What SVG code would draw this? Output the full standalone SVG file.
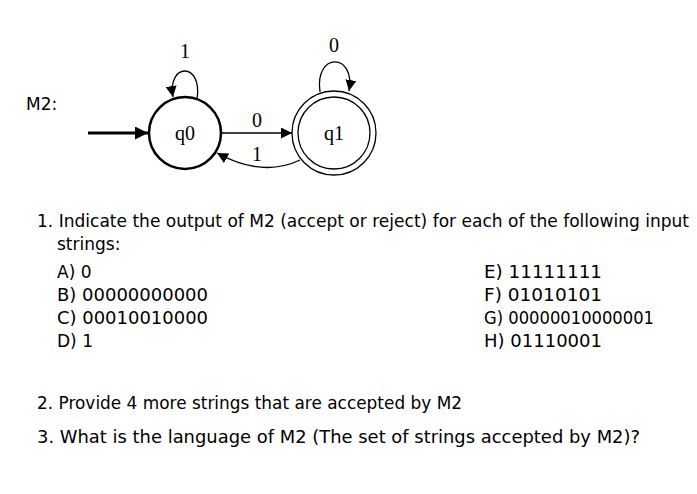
<svg xmlns="http://www.w3.org/2000/svg" width="697" height="494" viewBox="0 0 697 494">
<defs>
<style>
.t{font-family:"DejaVu Sans",sans-serif;font-size:17px;fill:#000}
.s{font-family:"Liberation Serif",serif;font-size:20px;fill:#000}
.e{fill:none;stroke:#000;stroke-width:1.3}
</style>
<marker id="a" viewBox="0 0 10 10" refX="10" refY="5" markerWidth="11" markerHeight="11" markerUnits="userSpaceOnUse" orient="auto"><path d="M0,0L10,5L0,10z"/></marker>
<marker id="b" viewBox="0 0 10 10" refX="10" refY="5" markerWidth="14" markerHeight="13" markerUnits="userSpaceOnUse" orient="auto"><path d="M0,0L10,5L0,10z"/></marker>
</defs>
<rect width="697" height="494" fill="#fff"/>
<text class="t" x="26" y="110">M2:</text>
<g id="connectors">
<line x1="88" y1="133" x2="148" y2="133" stroke="#000" stroke-width="3" marker-end="url(#b)"/>
<path class="e" d="M197,99 C203,62 167,62 173,97" marker-end="url(#a)"/>
<text class="s" x="185" y="58" text-anchor="middle">1</text>
<path class="e" d="M320,92 C314,52 356,52 349,91" marker-end="url(#a)"/>
<text class="s" x="334" y="52" text-anchor="middle">0</text>
<line class="e" x1="222" y1="133" x2="292" y2="133" marker-end="url(#a)"/>
<text class="s" x="257" y="127" text-anchor="middle">0</text>
<path class="e" d="M300,160 C275,172 248,170 217,153" marker-end="url(#a)"/>
<text class="s" x="257" y="161" text-anchor="middle">1</text>
</g>
<g id="q0"><circle cx="185" cy="133" r="36" fill="#fff" stroke="#000" stroke-width="2.5"/><text class="s" x="185" y="140" text-anchor="middle">q0</text></g>
<g id="q1"><circle cx="334" cy="133" r="42" fill="#fff" stroke="#000" stroke-width="1.3"/><circle cx="334" cy="133" r="36" fill="none" stroke="#000" stroke-width="1.3"/><text class="s" x="334" y="140" text-anchor="middle">q1</text></g>
<text class="t" x="37" y="227" textLength="652" lengthAdjust="spacingAndGlyphs">1.  Indicate the output of M2 (accept or reject) for each of the following input</text>
<text class="t" x="57" y="250">strings:</text>
<text class="t" x="57" y="278">A) 0</text>
<text class="t" x="57" y="301" textLength="151" lengthAdjust="spacingAndGlyphs">B) 00000000000</text>
<text class="t" x="57" y="324" textLength="151" lengthAdjust="spacingAndGlyphs">C) 00010010000</text>
<text class="t" x="57" y="347">D) 1</text>
<text class="t" x="484" y="278" textLength="118" lengthAdjust="spacingAndGlyphs">E) 11111111</text>
<text class="t" x="484" y="301" textLength="118" lengthAdjust="spacingAndGlyphs">F) 01010101</text>
<text class="t" x="484" y="324" textLength="170" lengthAdjust="spacingAndGlyphs">G) 00000010000001</text>
<text class="t" x="484" y="347" textLength="118" lengthAdjust="spacingAndGlyphs">H) 01110001</text>
<text class="t" x="37" y="409" textLength="425" lengthAdjust="spacingAndGlyphs">2.  Provide 4 more strings that are accepted by M2</text>
<text class="t" x="37" y="443" textLength="603" lengthAdjust="spacingAndGlyphs">3.  What is the language of M2 (The set of strings accepted by M2)?</text>
</svg>
